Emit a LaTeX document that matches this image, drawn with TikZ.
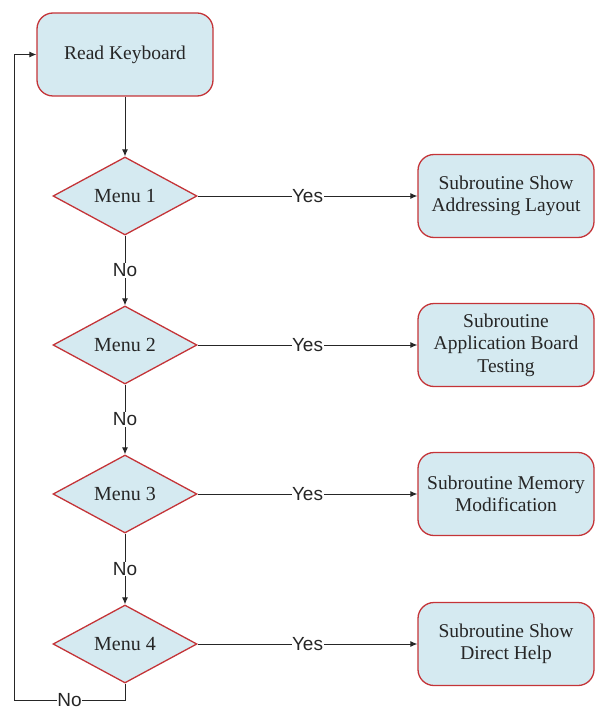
\documentclass[tikz,border=0pt]{standalone}
\usepackage{fontspec}
\setmainfont{Liberation Serif}
\newfontfamily\labelfont{Liberation Sans}
\usetikzlibrary{shapes.geometric,arrows.meta}
\definecolor{boxfill}{RGB}{213,234,241}
\definecolor{boxline}{RGB}{196,52,56}
\begin{document}
\begin{tikzpicture}[x=1pt,y=-1pt,
  procbox/.style={draw=boxline, line width=1.3pt, fill=boxfill, rounded corners=16pt,
    minimum width=176pt, minimum height=83pt, align=center, inner sep=2pt,
    font=\fontsize{19.5}{22.5}\selectfont, text=black!85},
  decbox/.style={diamond, draw=boxline, line width=1.3pt, fill=boxfill,
    minimum width=144pt, minimum height=78pt, inner sep=0pt, aspect=1.85,
    font=\fontsize{20}{22}\selectfont, text=black!85},
  conn/.style={draw=black!85, line width=0.9pt},
  arr/.style={conn, -{Latex[length=7pt,width=6pt]}},
  lbl/.style={fill=white, font=\labelfont\fontsize{19}{20}\selectfont, inner sep=0.5pt, text=black!85}
]
\useasboundingbox (0,0) rectangle (595,711);

\node[procbox] (rk) at (125,54.5) {Read Keyboard};
\node[decbox] (m1) at (125,196) {Menu 1};
\node[decbox] (m2) at (125,345) {Menu 2};
\node[decbox] (m3) at (125,494) {Menu 3};
\node[decbox] (m4) at (125,644) {Menu 4};

\node[procbox] (s1) at (506,196) {Subroutine Show\\Addressing Layout};
\node[procbox] (s2) at (506,345) {Subroutine\\Application Board\\Testing};
\node[procbox] (s3) at (506,494) {Subroutine Memory\\Modification};
\node[procbox] (s4) at (506,644) {Subroutine Show\\Direct Help};

\draw[arr] (rk) -- (m1);
\draw[arr] (m1) -- node[lbl]{No} (m2);
\draw[arr] (m2) -- node[lbl]{No} (m3);
\draw[arr] (m3) -- node[lbl]{No} (m4);

\draw[arr] (m1) -- node[lbl]{Yes} (s1);
\draw[arr] (m2) -- node[lbl]{Yes} (s2);
\draw[arr] (m3) -- node[lbl]{Yes} (s3);
\draw[arr] (m4) -- node[lbl]{Yes} (s4);

\coordinate (c1) at (14,700);
\coordinate (c2) at (14,54.5);
\draw[arr] (m4.south) |- node[lbl, pos=0.75]{No} (c1) -- (c2) -- (rk.west);
\end{tikzpicture}
\end{document}
